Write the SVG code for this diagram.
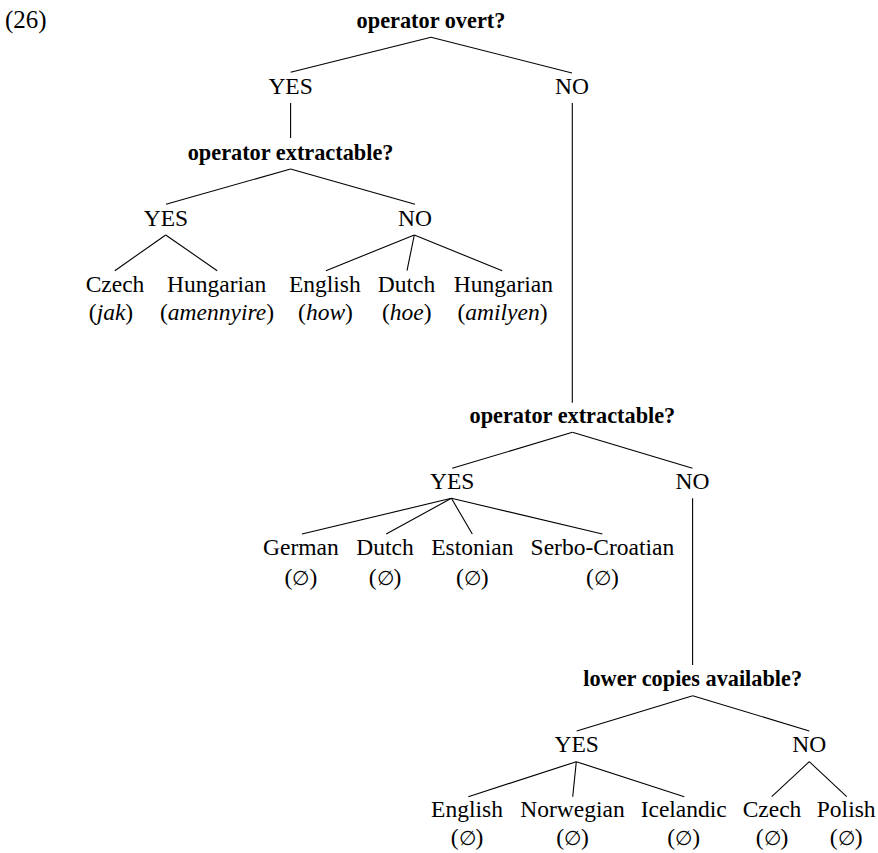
<svg xmlns="http://www.w3.org/2000/svg" width="878" height="853" viewBox="0 0 878 853">
<style>
text{font-family:"Liberation Serif","DejaVu Serif",serif;font-size:23.5px;fill:#000;text-anchor:middle}
.q{font-weight:bold;font-size:22.3px}
.i{font-style:italic}
.e{font-family:"DejaVu Serif","Liberation Serif",serif;font-size:19.5px}
#connectors line{stroke:#000;stroke-width:1.1;fill:none}
</style>
<rect width="878" height="853" fill="#fff"/>
<text x="5" y="28" style="text-anchor:start;font-size:25px">(26)</text>
<g id="connectors">
<line x1="431" y1="37.3" x2="290.6" y2="72.3"/>
<line x1="431" y1="37.3" x2="572" y2="73"/>
<line x1="290.6" y1="103" x2="290.6" y2="138"/>
<line x1="572.3" y1="103" x2="572.3" y2="402.7"/>
<line x1="290.6" y1="169" x2="166" y2="204.3"/>
<line x1="290.6" y1="169" x2="415" y2="204.3"/>
<line x1="165.7" y1="235" x2="114.8" y2="270.7"/>
<line x1="165.7" y1="235" x2="217.2" y2="270.7"/>
<line x1="414.3" y1="235" x2="325.9" y2="270.7"/>
<line x1="414.3" y1="235" x2="407" y2="270.7"/>
<line x1="414.3" y1="235" x2="502.2" y2="270.7"/>
<line x1="572.4" y1="432.3" x2="452.2" y2="468.3"/>
<line x1="572.4" y1="432.3" x2="692.5" y2="468.3"/>
<line x1="451.4" y1="498.3" x2="302" y2="534"/>
<line x1="451.4" y1="498.3" x2="386.2" y2="534"/>
<line x1="451.4" y1="498.3" x2="472.3" y2="534"/>
<line x1="451.4" y1="498.3" x2="602.4" y2="534"/>
<line x1="692.6" y1="498.3" x2="692.6" y2="665"/>
<line x1="692.7" y1="695.7" x2="576.7" y2="731"/>
<line x1="692.7" y1="695.7" x2="809.3" y2="731"/>
<line x1="576.3" y1="761.7" x2="468.3" y2="796.7"/>
<line x1="576.3" y1="761.7" x2="572.7" y2="796.7"/>
<line x1="576.3" y1="761.7" x2="684.3" y2="796.7"/>
<line x1="809.3" y1="761.7" x2="771.7" y2="796.7"/>
<line x1="809.3" y1="761.7" x2="846.7" y2="796.7"/>
</g>
<g id="q1"><text class="q" x="431" y="28">operator overt?</text></g>
<g id="yes1"><text x="290.6" y="94">YES</text></g>
<g id="no1"><text x="572" y="94">NO</text></g>
<g id="q2"><text class="q" x="290.6" y="159.5">operator extractable?</text></g>
<g id="yes2"><text x="166" y="225.7">YES</text></g>
<g id="no2"><text x="415" y="225.7">NO</text></g>
<g id="czech1"><text x="115" y="291.7">Czech</text><text x="111" y="320">(<tspan class="i">jak</tspan>)</text></g>
<g id="hungarian1"><text x="216.7" y="291.7">Hungarian</text><text x="217" y="320">(<tspan class="i">amennyire</tspan>)</text></g>
<g id="english1"><text x="324.8" y="291.7">English</text><text x="325.5" y="320">(<tspan class="i">how</tspan>)</text></g>
<g id="dutch1"><text x="406.5" y="291.7">Dutch</text><text x="406.7" y="320">(<tspan class="i">hoe</tspan>)</text></g>
<g id="hungarian2"><text x="503.4" y="291.7">Hungarian</text><text x="502.5" y="320">(<tspan class="i">amilyen</tspan>)</text></g>
<g id="q3"><text class="q" x="572.4" y="422.7">operator extractable?</text></g>
<g id="yes3"><text x="452.2" y="489">YES</text></g>
<g id="no3"><text x="692.5" y="489">NO</text></g>
<g id="german"><text x="300.9" y="555">German</text><text x="300.9" y="585">(<tspan class="e">∅</tspan>)</text></g>
<g id="dutch2"><text x="385" y="555">Dutch</text><text x="385" y="585">(<tspan class="e">∅</tspan>)</text></g>
<g id="estonian"><text x="472.3" y="555">Estonian</text><text x="472.3" y="585">(<tspan class="e">∅</tspan>)</text></g>
<g id="serbocroatian"><text x="602.4" y="555">Serbo-Croatian</text><text x="602.4" y="585">(<tspan class="e">∅</tspan>)</text></g>
<g id="q4"><text class="q" x="692.7" y="686">lower copies available?</text></g>
<g id="yes4"><text x="576.7" y="751.7">YES</text></g>
<g id="no4"><text x="809.3" y="751.7">NO</text></g>
<g id="english2"><text x="467" y="817.3">English</text><text x="467" y="845">(<tspan class="e">∅</tspan>)</text></g>
<g id="norwegian"><text x="572.5" y="817.3">Norwegian</text><text x="572.5" y="845">(<tspan class="e">∅</tspan>)</text></g>
<g id="icelandic"><text x="683.7" y="817.3">Icelandic</text><text x="683.7" y="845">(<tspan class="e">∅</tspan>)</text></g>
<g id="czech2"><text x="772" y="817.3">Czech</text><text x="772" y="845">(<tspan class="e">∅</tspan>)</text></g>
<g id="polish"><text x="846.2" y="817.3">Polish</text><text x="846.2" y="845">(<tspan class="e">∅</tspan>)</text></g>
</svg>
